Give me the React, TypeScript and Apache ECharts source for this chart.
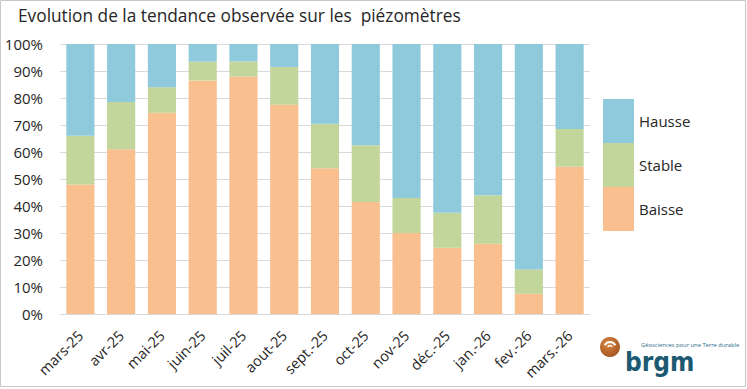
import React, { useEffect, useRef } from "react";
import * as echarts from "echarts";

const categories = ["mars-25", "avr-25", "mai-25", "juin-25", "juil-25", "aout-25", "sept.-25", "oct-25", "nov-25", "déc.-25", "jan.-26", "fev.-26", "mars.-26"];
const baisse = [48, 61, 74.5, 86.5, 88, 77.5, 54, 41.5, 30, 24.5, 26, 7.5, 54.5];
const stable = [18, 17.5, 9.5, 7, 5.5, 14, 16.5, 21, 13, 13, 18, 9, 14];
const hausse = [34, 21.5, 16, 6.5, 6.5, 8.5, 29.5, 37.5, 57, 62.5, 56, 83.5, 31.5];
const legendOrder = ["Hausse", "Stable", "Baisse"];

const FONT = "'Open Sans', sans-serif";
const TXT = "#262626";

export default function App() {
  const ref = useRef<HTMLDivElement>(null);
  useEffect(() => {
    if (!ref.current) return;
    const chart = echarts.init(ref.current, null, { renderer: "svg" });
    chart.setOption({
      animation: false,
      backgroundColor: "#ffffff",
      title: {
        text: "Evolution de la tendance observée sur les  piézomètres",
        left: 13,
        top: 2,
        textStyle: { fontFamily: FONT, fontSize: 17.3, fontWeight: "normal", color: TXT },
      },
      legend: {
        orient: "vertical",
        left: 603,
        top: 99,
        padding: 0,
        itemWidth: 31,
        itemHeight: 44,
        itemGap: 0,
        icon: "rect",
        data: legendOrder,
        textStyle: { fontFamily: FONT, fontSize: 15, color: TXT },
      },
      grid: { left: 60, right: 157, top: 44, bottom: 75 },
      xAxis: {
        type: "category",
        data: categories,
        axisLine: { lineStyle: { color: "#d9d9d9" } },
        axisTick: { show: false },
        axisLabel: { interval: 0, rotate: 45, margin: 19, fontFamily: FONT, fontSize: 14.5, color: TXT },
      },
      yAxis: {
        type: "value",
        min: 0,
        max: 100,
        interval: 10,
        axisLine: { show: false },
        axisTick: { show: false },
        splitLine: { lineStyle: { color: "#d9d9d9" } },
        axisLabel: { formatter: "{value}%", margin: 17, fontFamily: FONT, fontSize: 15, color: TXT },
      },
      series: [
        { name: "Baisse", type: "bar", stack: "t", data: baisse, barCategoryGap: "31%", itemStyle: { color: "#F9BF8F" } },
        { name: "Stable", type: "bar", stack: "t", data: stable, itemStyle: { color: "#C2D69B" } },
        { name: "Hausse", type: "bar", stack: "t", data: hausse, itemStyle: { color: "#8EC9DC" } },
      ],
      graphic: [
        { type: "rect", shape: { x: 0.5, y: 0.5, width: 745, height: 386 }, style: { fill: "none", stroke: "#c8c8c8", lineWidth: 1 }, silent: true },
        { type: "circle", shape: { cx: 610, cy: 347, r: 10 }, style: { fill: new echarts.graphic.RadialGradient(0.4, 0.35, 0.8, [{ offset: 0, color: "#d8833f" }, { offset: 1, color: "#9c4f1e" }]) } },
        { type: "arc", shape: { cx: 610, cy: 348, r: 6, startAngle: -Math.PI * 0.85, endAngle: -Math.PI * 0.15 }, style: { stroke: "#ffffff", lineWidth: 2, fill: "none" } },
        { type: "arc", shape: { cx: 610, cy: 348, r: 2.5, startAngle: -Math.PI * 0.85, endAngle: -Math.PI * 0.15 }, style: { stroke: "#ffffff", lineWidth: 1.6, fill: "none" } },
        { type: "text", x: 625, y: 362, style: { text: "brgm", fontFamily: "'DejaVu Sans Condensed', 'DejaVu Sans', sans-serif", fontWeight: "bold", fontSize: 26, fill: "#1d5a72", verticalAlign: "middle" } },
        { type: "text", x: 641, y: 345, style: { text: "Géosciences pour une Terre durable", fontFamily: FONT, fontSize: 5.8, fill: "#2b6a85", verticalAlign: "middle" } },
      ],
    });
    return () => chart.dispose();
  }, []);
  return <div ref={ref} style={{ position: "absolute", left: 0, top: 0, width: 747, height: 389 }} />;
}
